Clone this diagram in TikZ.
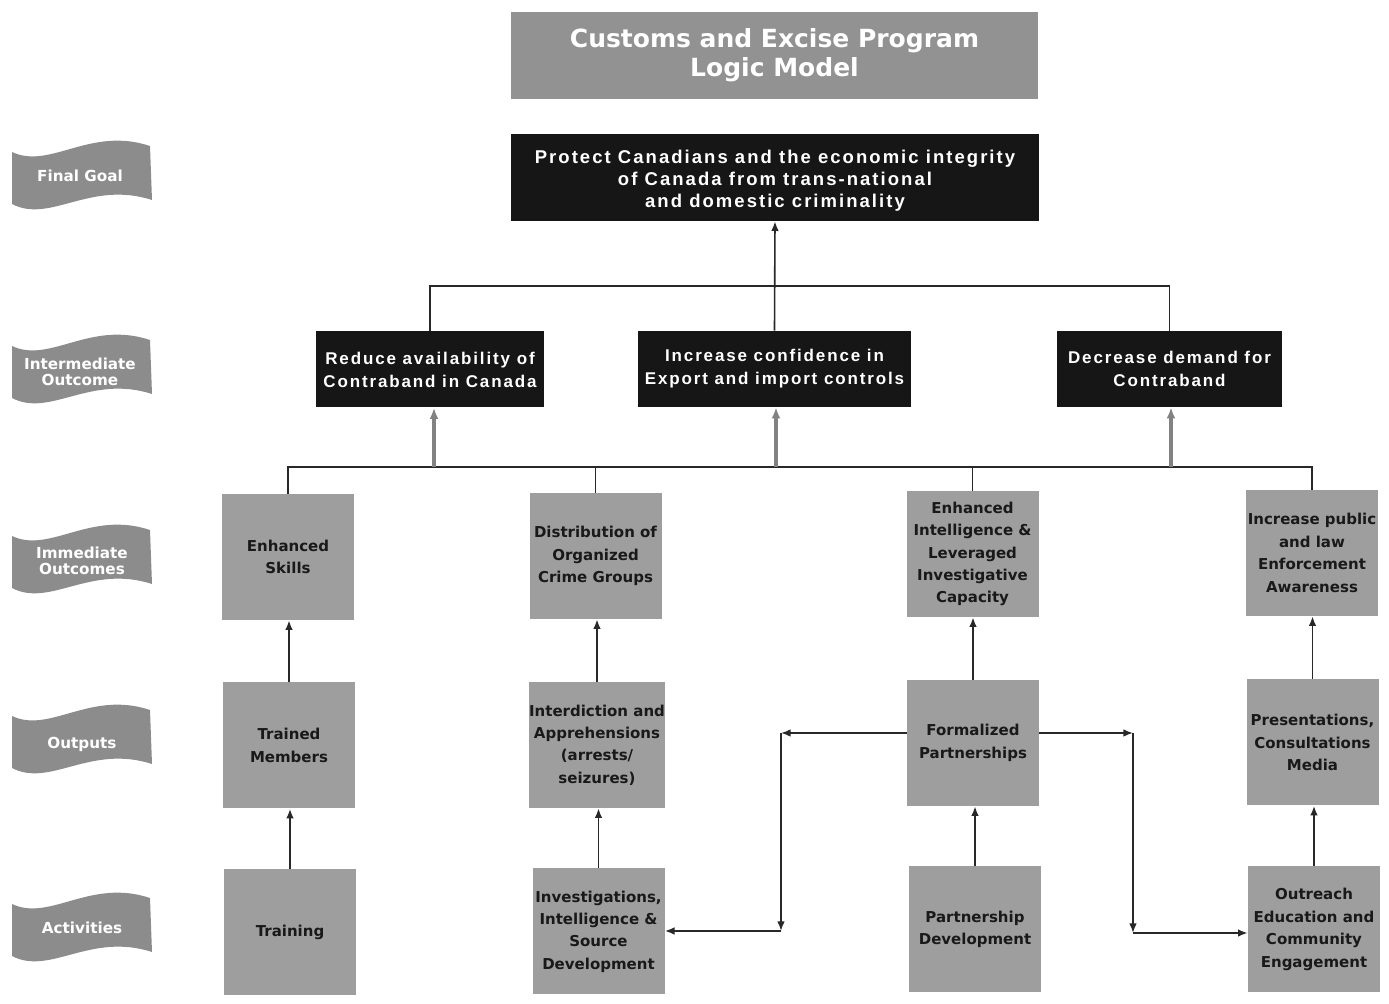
\documentclass[tikz,border=0pt]{standalone}
\usepackage{fontspec}
\setmainfont{DejaVu Sans}
\newfontfamily\spacedfont[LetterSpace=11]{Liberation Sans}
\usetikzlibrary{arrows.meta}
\definecolor{titlegray}{RGB}{146,146,146}
\definecolor{boxgray}{RGB}{158,158,158}
\definecolor{wavegray}{RGB}{140,140,140}
\definecolor{boxblack}{RGB}{22,22,22}
\definecolor{linedark}{RGB}{40,40,40}
\definecolor{arrgray}{RGB}{130,130,130}
\definecolor{textdark}{RGB}{25,25,25}
\begin{document}
\begin{tikzpicture}[x=0.5pt,y=-0.5pt,
  titlebox/.style={fill=titlegray, minimum width=263.5pt, minimum height=43.5pt, inner sep=0pt, align=center, text=white, font=\fontsize{12.5}{14.5}\selectfont\bfseries},
  goalbox/.style={fill=boxblack, minimum width=264pt, minimum height=43.5pt, inner sep=0pt, align=center, text=white, font=\spacedfont\fontsize{9.25}{11}\selectfont\bfseries},
  midbox/.style={fill=boxblack, minimum height=38pt, inner sep=0pt, align=center, text=white, font=\spacedfont\fontsize{8.5}{11.5}\selectfont\bfseries},
  graybox/.style={fill=boxgray, minimum width=66pt, minimum height=63pt, inner sep=0pt, align=center, text=textdark, font=\fontsize{7.5}{11.2}\selectfont\bfseries},
  wavetext/.style={inner sep=0pt, align=center, text=white, font=\fontsize{7.6}{8}\selectfont\bfseries},
  conn/.style={draw=linedark, line width=0.8pt},
  arr/.style={conn, -{Latex[length=4.8pt,width=3.8pt]}},
  garrow/.style={draw=arrgray, line width=1.6pt, -{Latex[length=5.5pt,width=4.5pt]}},
  pics/wave/.style={code={\fill[wavegray] (-68,-24) .. controls (-30,-6) and (10,-50) .. (70,-30) -- (72,24) .. controls (10,4) and (-30,48) .. (-68,28) -- cycle;}}
]
\useasboundingbox (0,0) rectangle (1389,1004);

% left wave labels
\pic at (80,176) {wave};
\node[wavetext] (lgoal) at (80,176) {Final Goal};
\pic at (80,370) {wave};
\node[wavetext] (lint) at (80,372) {Intermediate\\Outcome};
\pic at (80,560) {wave};
\node[wavetext] (limm) at (82,561) {Immediate\\Outcomes};
\pic at (80,740) {wave};
\node[wavetext] (lout) at (82,744) {Outputs};
\pic at (80,928) {wave};
\node[wavetext] (lact) at (82,928) {Activities};

% title and goal
\node[titlebox] (title) at (774.5,55.5) {Customs and Excise Program\\Logic Model};
\node[goalbox] (goal) at (775,177.5) {\raisebox{-2pt}[\height][\depth]{\begin{tabular}{@{}c@{}}Protect Canadians and the economic integrity\\of Canada from trans-national\\and domestic criminality\end{tabular}}};

% intermediate outcomes
\node[midbox, minimum width=114pt] (int1) at (430,369.5) {Reduce availability of\\Contraband in Canada};
\node[midbox, minimum width=136.5pt] (int2) at (774.5,369) {Increase confidence in\\Export and import controls};
\node[midbox, minimum width=112.5pt] (int3) at (1169.5,369) {Decrease demand for\\Contraband};

% immediate outcomes
\node[graybox] (imm1) at (288,557) {Enhanced\\Skills};
\node[graybox] (imm2) at (595.5,556) {Distribution of\\Organized\\Crime Groups};
\node[graybox] (imm3) at (972.5,554) {Enhanced\\Intelligence \&\\Leveraged\\Investigative\\Capacity};
\node[graybox] (imm4) at (1312,553) {Increase public\\and law\\Enforcement\\Awareness};

% outputs
\node[graybox] (out1) at (289,745.5) {Trained\\Members};
\node[graybox] (out2) at (597,745) {Interdiction and\\Apprehensions\\(arrests/\\seizures)};
\node[graybox] (out3) at (973,743) {Formalized\\Partnerships};
\node[graybox] (out4) at (1312.5,742.5) {Presentations,\\Consultations\\Media};

% activities
\node[graybox] (act1) at (290,932) {Training};
\node[graybox] (act2) at (598.5,931.5) {Investigations,\\Intelligence \&\\Source\\Development};
\node[graybox] (act3) at (975,929.5) {Partnership\\Development};
\node[graybox] (act4) at (1314,929.5) {Outreach\\Education and\\Community\\Engagement};

% top connectors
\draw[conn] (int1.north) -- ++(0,-45) -| (int3.north);
\draw[arr] (int2.north) -- (goal.south);

% lower bus
\coordinate (busy) at (0,467);
\draw[conn] (imm1.north) -- (imm1.north |- busy) -- (imm4.north |- busy) -- (imm4.north);
\draw[conn] (imm2.north) -- (imm2.north |- busy);
\draw[conn] (imm3.north) -- (imm3.north |- busy);
\draw[garrow] ([xshift=2pt]int1.south |- busy) -- ([xshift=2pt]int1.south);
\draw[garrow] ([xshift=0.75pt]int2.south |- busy) -- ([xshift=0.75pt]int2.south);
\draw[garrow] ([xshift=0.75pt]int3.south |- busy) -- ([xshift=0.75pt]int3.south);

% vertical arrows
\draw[arr] (act1.north) -- (act1.north |- out1.south);
\draw[arr] (out1.north) -- (out1.north |- imm1.south);
\draw[arr] (act2.north) -- (act2.north |- out2.south);
\draw[arr] (out2.north) -- (out2.north |- imm2.south);
\draw[arr] (act3.north) -- (act3.north |- out3.south);
\draw[arr] (out3.north) -- (out3.north |- imm3.south);
\draw[arr] (act4.north) -- (act4.north |- out4.south);
\draw[arr] (out4.north) -- (out4.north |- imm4.south);

% side connectors from Formalized Partnerships
\coordinate (cl1) at (781,733);
\coordinate (cl2) at (781,931);
\coordinate (cr1) at (1133,733);
\coordinate (cr2) at (1133,933);
\draw[arr] (out3.west |- cl1) -- (cl1);
\draw[arr] (cl1) -- (cl2);
\draw[arr] (cl2) -- (act2.east |- cl2);
\draw[arr] (out3.east |- cr1) -- (cr1);
\draw[arr] (cr1) -- (cr2);
\draw[arr] (cr2) -- (act4.west |- cr2);
\end{tikzpicture}
\end{document}
